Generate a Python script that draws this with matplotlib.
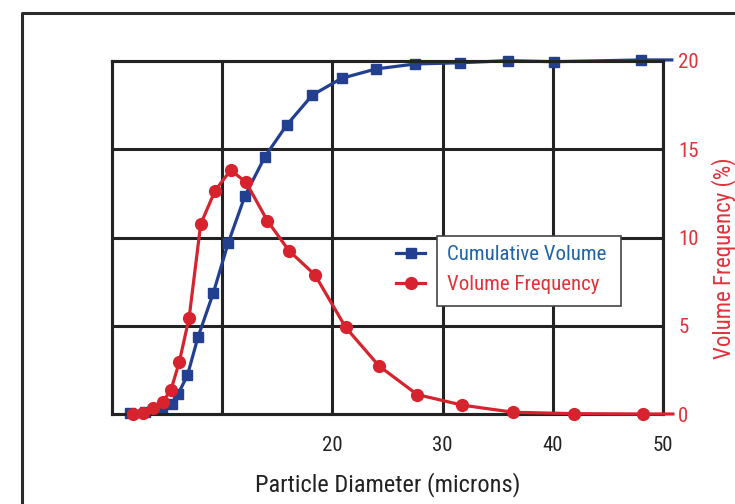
import matplotlib
matplotlib.use("Agg")
import matplotlib.pyplot as plt
from matplotlib import font_manager as fm
from matplotlib.lines import Line2D
from matplotlib.patches import Rectangle

# pick a condensed sans font if one is installed, else Liberation Sans
_fam, _stretch = 'Liberation Sans', 'normal'
_names = {f.name for f in fm.fontManager.ttflist}
for _cand in ['Liberation Sans Narrow', 'Roboto Condensed', 'Open Sans Condensed',
              'Noto Sans Condensed', 'DejaVu Sans Condensed']:
    if _cand in _names:
        _fam = _cand
        break
else:
    for f in fm.fontManager.ttflist:
        if f.stretch in ('condensed', 'semi-condensed', 'extra-condensed') and f.style == 'normal':
            _fam, _stretch = f.name, f.stretch
            break
plt.rcParams['font.family'] = [_fam, 'DejaVu Sans']
plt.rcParams['font.stretch'] = _stretch

# Cumulative volume (%) vs particle diameter (microns)
cum_diam = [1.6, 3.0, 4.5, 5.4, 6.0, 6.85, 7.8, 9.2, 10.55, 12.07, 13.88, 15.85,
            18.18, 20.84, 23.96, 27.5, 31.6, 35.9, 40.1, 47.98, 50.8]
cum_vol = [0.3, 0.5, 1.6, 2.75, 5.65, 11.0, 21.75, 34.35, 48.5, 61.85, 72.9, 81.85,
           90.35, 95.1, 97.75, 99.15, 99.5, 100.1, 99.8, 100.3, 100.3]

# Volume frequency (%) vs particle diameter (microns)
freq_diam = [1.94, 2.85, 3.69, 4.6, 5.35, 6.1, 7.0, 8.05, 9.35, 10.77, 12.16, 14.1,
             16.06, 18.42, 21.2, 24.23, 27.7, 31.8, 36.4, 41.9, 48.2, 50.9]
freq_vol = [0.0, 0.08, 0.32, 0.7, 1.36, 2.93, 5.46, 10.76, 12.65, 13.82, 13.13, 10.95,
            9.25, 7.88, 4.91, 2.72, 1.1, 0.5, 0.1, 0.02, 0.0, 0.0]

x_ticks = [10, 20, 30, 40, 50]
x_ticklabels = ['', '20', '30', '40', '50']
y_ticks = [0, 5, 10, 15, 20]

BLUE = '#22408f'
RED = '#d6232e'
BLUE_TXT = '#1f63a8'
RED_TXT = '#e2323a'
GRID = '#232323'

W, H = 735, 504
fig = plt.figure(figsize=(7.35, 5.04), dpi=100)
L, R, T, B = 112, 663, 61, 414
ax = fig.add_axes([L / W, 1 - B / H, (R - L) / W, (B - T) / H])
ax2 = ax.twinx()

ax.set_xlim(0, 50)
ax.set_ylim(0, 100)
ax2.set_ylim(0, 20)

# grid
ax.set_xticks(x_ticks)
ax.set_xticklabels(x_ticklabels)
ax.set_yticks([25, 50, 75])
ax.set_yticklabels([])
ax.grid(True, color=GRID, lw=2.2, zorder=0)
ax.tick_params(axis='both', length=0)
ax.tick_params(axis='x', pad=16, labelsize=15, colors='#222222')
for a in (ax, ax2):
    for s in a.spines.values():
        s.set_color(GRID)
        s.set_linewidth(2.2)

ax2.set_yticks(y_ticks)
ax2.tick_params(axis='y', length=0, pad=11, labelsize=15, labelcolor=RED_TXT)

mk_cum = list(range(len(cum_diam) - 1))
mk_freq = list(range(len(freq_diam) - 1))
ax.plot(cum_diam, cum_vol, color=BLUE, lw=2.3, marker='s', ms=7,
        markevery=mk_cum, clip_on=False, zorder=3)
ax2.plot(freq_diam, freq_vol, color=RED, lw=2.3, marker='o', ms=8.5,
         markevery=mk_freq, clip_on=False, zorder=4)

ax.set_xlabel('Particle Diameter (microns)', fontsize=17.6, color='#222222')
ax.xaxis.set_label_coords(0.5, -(485 - B) / (B - T))
ax.xaxis.label.set_va('center')
ax2.set_ylabel('Volume Frequency (%)', fontsize=16.5, color=RED_TXT, rotation=90)
ax2.yaxis.set_label_coords((724 - L) / (R - L), (B - 258) / (B - T))
ax2.yaxis.label.set_va('center')
ax2.yaxis.label.set_ha('center')

# legend box (handles sit outside the box, as in the original)
box = Rectangle((437 / W, 1 - 306 / H), (621 - 437) / W, (306 - 236) / H,
                transform=fig.transFigure, facecolor='white', edgecolor='#444444',
                lw=1.2, zorder=5)
fig.patches.append(box)
handles = [Line2D([], [], color=BLUE, lw=2.3, marker='s', ms=7),
           Line2D([], [], color=RED, lw=2.3, marker='o', ms=8.5)]
leg = fig.legend(handles, ['Cumulative Volume', 'Volume Frequency'],
                 loc='upper left', bbox_to_anchor=(396 / W, 1 - 245 / H),
                 frameon=False, fontsize=15, handlelength=1.4, handletextpad=1.05,
                 labelspacing=0.52, borderpad=0, borderaxespad=0)
for t, c in zip(leg.get_texts(), [BLUE_TXT, RED_TXT]):
    t.set_color(c)
leg.set_zorder(6)

# outer frame of the original figure panel
fig.add_artist(Line2D([22 / W, 22 / W, 1.0], [0, 1 - 13 / H, 1 - 13 / H],
                      transform=fig.transFigure, color='#2b2b2b', lw=2.2))

fig.savefig('out.png', dpi=100)
